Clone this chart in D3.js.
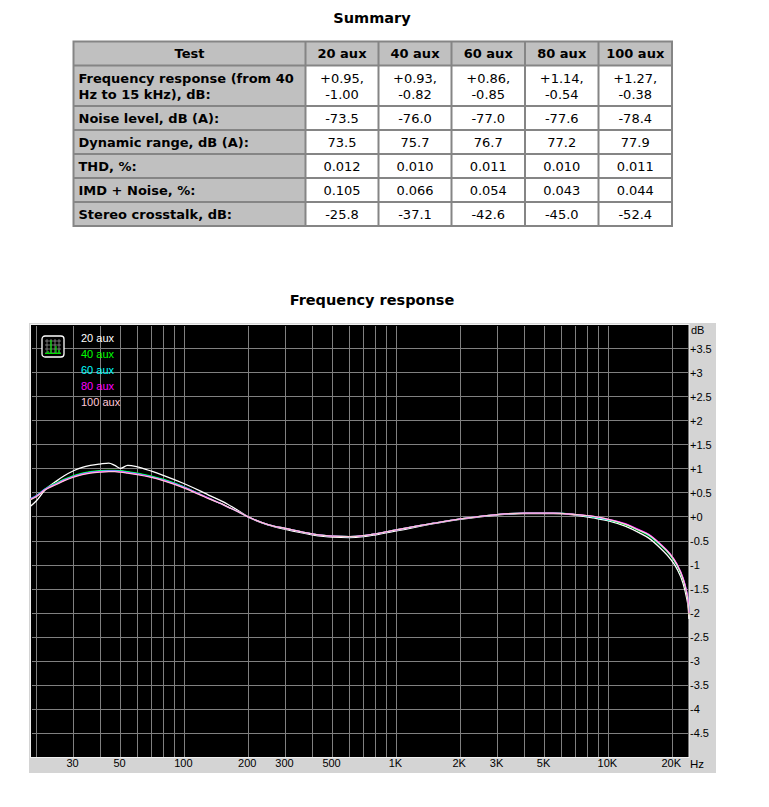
<!DOCTYPE html>
<html>
<head>
<meta charset="utf-8">
<script src="https://cdn.jsdelivr.net/npm/d3@7"></script>
<style>
  body { margin: 0; background: #fff; }
  svg { display: block; }
</style>
</head>
<body>
<script>
// ---- Summary table data ----
const tableHead = ["Test", "20 aux", "40 aux", "60 aux", "80 aux", "100 aux"];
const rowLabels = [
  ["Frequency response (from 40", "Hz to 15 kHz), dB:"],
  ["Noise level, dB (A):"],
  ["Dynamic range, dB (A):"],
  ["THD, %:"],
  ["IMD + Noise, %:"],
  ["Stereo crosstalk, dB:"]
];
const freqRespMax = ["+0.95,", "+0.93,", "+0.86,", "+1.14,", "+1.27,"];
const freqRespMin = ["-1.00", "-0.82", "-0.85", "-0.54", "-0.38"];
const noiseLevel = ["-73.5", "-76.0", "-77.0", "-77.6", "-78.4"];
const dynamicRange = ["73.5", "75.7", "76.7", "77.2", "77.9"];
const thd = ["0.012", "0.010", "0.011", "0.010", "0.011"];
const imdNoise = ["0.105", "0.066", "0.054", "0.043", "0.044"];
const crosstalk = ["-25.8", "-37.1", "-42.6", "-45.0", "-52.4"];

// ---- Frequency response data ----
const seriesNames = ["20 aux", "40 aux", "60 aux", "80 aux", "100 aux"];
const seriesColors = ["#ffffff", "#00ff00", "#00ffff", "#ff00ff", "#ffc8d8"];
const freqs = [18.8, 20, 22, 25, 27, 30, 33, 36, 40, 44, 47, 50, 54, 60, 70, 80, 100, 120, 130, 150, 160, 180, 200,
  250, 300, 400, 500, 600, 700, 800, 1000, 1500, 2000, 3000, 4000, 5500, 7000, 8500, 10000,
  12000, 14000, 15500, 17500, 19500, 21000, 22500, 23300, 23800, 24000];
const aux20 = [0.22, 0.33, 0.56, 0.75, 0.85, 0.96, 1.03, 1.07, 1.10, 1.12, 1.07, 1.01, 1.07, 1.04, 0.95, 0.86, 0.69, 0.53, 0.455, 0.33, 0.265, 0.13, 0.00,
  -0.17, -0.26, -0.37, -0.42, -0.43, -0.41, -0.37, -0.29, -0.14, -0.05, 0.04, 0.07, 0.07, 0.04, -0.02, -0.08,
  -0.19, -0.33, -0.44, -0.64, -0.86, -1.07, -1.38, -1.65, -1.90, -2.12];
const aux40 = [0.36, 0.43, 0.58, 0.71, 0.78, 0.86, 0.91, 0.94, 0.96, 0.97, 0.97, 0.96, 0.94, 0.91, 0.85, 0.78, 0.62, 0.46, 0.39, 0.27, 0.21, 0.105, 0.00,
  -0.165, -0.24, -0.35, -0.40, -0.41, -0.39, -0.35, -0.27, -0.13, -0.04, 0.05, 0.08, 0.08, 0.05, 0.00, -0.06,
  -0.16, -0.29, -0.39, -0.58, -0.79, -1.00, -1.30, -1.55, -1.80, -2.03];
const aux60 = [0.38, 0.44, 0.58, 0.70, 0.77, 0.85, 0.90, 0.93, 0.95, 0.96, 0.96, 0.95, 0.93, 0.90, 0.84, 0.77, 0.62, 0.46, 0.39, 0.27, 0.21, 0.105, 0.00,
  -0.165, -0.24, -0.35, -0.40, -0.41, -0.39, -0.35, -0.27, -0.13, -0.04, 0.05, 0.08, 0.08, 0.05, 0.00, -0.06,
  -0.15, -0.28, -0.38, -0.57, -0.78, -0.99, -1.28, -1.52, -1.76, -1.97];
const aux80 = [0.37, 0.43, 0.57, 0.69, 0.76, 0.84, 0.89, 0.92, 0.94, 0.95, 0.95, 0.94, 0.92, 0.89, 0.83, 0.76, 0.61, 0.46, 0.39, 0.27, 0.21, 0.105, 0.00,
  -0.165, -0.24, -0.35, -0.40, -0.41, -0.39, -0.35, -0.27, -0.13, -0.04, 0.05, 0.08, 0.08, 0.05, 0.01, -0.05,
  -0.14, -0.27, -0.36, -0.55, -0.76, -0.97, -1.27, -1.52, -1.77, -2.00];
const aux100 = [0.36, 0.42, 0.56, 0.68, 0.75, 0.83, 0.88, 0.91, 0.93, 0.94, 0.94, 0.93, 0.91, 0.88, 0.82, 0.75, 0.60, 0.45, 0.38, 0.27, 0.21, 0.105, 0.00,
  -0.165, -0.24, -0.35, -0.40, -0.41, -0.39, -0.35, -0.27, -0.13, -0.04, 0.05, 0.08, 0.08, 0.05, 0.01, -0.05,
  -0.15, -0.28, -0.37, -0.56, -0.77, -0.98, -1.29, -1.55, -1.81, -2.05];
const seriesValues = [aux20, aux40, aux60, aux80, aux100];

// axis ticks
const xTickLabels = [30, 50, 100, 200, 300, 500, 1000, 2000, 3000, 5000, 10000, 20000];
const yTicks = d3.range(-4.5, 3.51, 0.5);
const gridFreqs = [].concat(d3.range(20, 101, 10), d3.range(200, 1001, 100), d3.range(2000, 10001, 1000), [20000]);

const svg = d3.select("body").append("svg")
    .attr("width", 769)
    .attr("height", 807);

// ---- Summary table ----
svg.append("text")
    .attr("x", 372).attr("y", 23)
    .attr("text-anchor", "middle")
    .attr("font-family", "DejaVu Sans, Verdana, sans-serif")
    .attr("font-weight", "bold")
    .attr("font-size", 14.5)
    .text("Summary");

const colX = [73.5, 305.5, 378.5, 451.5, 525, 598.5, 672];
const rowY = [41.5, 65.5, 106, 130, 154, 178, 202, 226];
const tableRows = [
  [freqRespMax, freqRespMin], [noiseLevel], [dynamicRange], [thd], [imdNoise], [crosstalk]
];

const table = svg.append("g")
    .attr("font-family", "DejaVu Sans, Verdana, sans-serif")
    .attr("font-size", 13);

table.append("rect")
    .attr("x", colX[0] - 1).attr("y", rowY[0] - 1)
    .attr("width", colX[6] - colX[0] + 2)
    .attr("height", rowY[7] - rowY[0] + 2)
    .attr("fill", "#858585");

for (let r = 0; r < rowY.length - 1; r++) {
  for (let c = 0; c < colX.length - 1; c++) {
    const grey = r === 0 || c === 0;
    table.append("rect")
        .attr("x", colX[c] + 1).attr("y", rowY[r] + 1)
        .attr("width", colX[c + 1] - colX[c] - 2)
        .attr("height", rowY[r + 1] - rowY[r] - 2)
        .attr("fill", grey ? "#c0c0c0" : "#ffffff");

    let lines;
    if (r === 0) lines = [tableHead[c]];
    else if (c === 0) lines = rowLabels[r - 1];
    else lines = tableRows[r - 1].map(arr => arr[c - 1]);

    const cy = (rowY[r] + rowY[r + 1]) / 2;
    const lh = 16;
    const t = table.append("text")
        .attr("x", c === 0 && r > 0 ? colX[0] + 5 : (colX[c] + colX[c + 1]) / 2)
        .attr("text-anchor", c === 0 && r > 0 ? "start" : "middle")
        .attr("font-weight", r === 0 || c === 0 ? "bold" : "normal")
        .attr("fill", "#000");
    lines.forEach((s, i) => {
      t.append("tspan")
          .attr("x", t.attr("x"))
          .attr("y", cy + (i - (lines.length - 1) / 2) * lh + 4.8)
          .text(s);
    });
  }
}

// ---- Frequency response chart ----
svg.append("text")
    .attr("x", 372).attr("y", 305)
    .attr("text-anchor", "middle")
    .attr("font-family", "DejaVu Sans, Verdana, sans-serif")
    .attr("font-weight", "bold")
    .attr("font-size", 14.5)
    .text("Frequency response");

const x = d3.scaleLog().domain([18.8, 24000]).range([30.5, 689]);
const y = d3.scaleLinear().domain([-5, 4]).range([757.5, 324.5]);

// grey panel
svg.append("rect")
    .attr("x", 29).attr("y", 323)
    .attr("width", 687).attr("height", 450)
    .attr("fill", "#d4d4d4");

// plot background
svg.append("rect")
    .attr("x", x.range()[0]).attr("y", y.range()[1])
    .attr("width", x.range()[1] - x.range()[0])
    .attr("height", y.range()[0] - y.range()[1])
    .attr("fill", "#000")
    .attr("stroke", "#f0f0f0")
    .attr("stroke-width", 1);

const grid = svg.append("g")
    .attr("stroke", "#808080")
    .attr("stroke-width", 1)
    .attr("shape-rendering", "crispEdges");

grid.selectAll("line.v")
    .data(gridFreqs)
    .enter().append("line")
    .attr("class", "v")
    .attr("x1", d => x(d)).attr("x2", d => x(d))
    .attr("y1", y.range()[1] + 1).attr("y2", y.range()[0] - 1);

grid.selectAll("line.h")
    .data(yTicks)
    .enter().append("line")
    .attr("class", "h")
    .attr("x1", x.range()[0] + 1).attr("x2", x.range()[1] - 1)
    .attr("y1", d => y(d)).attr("y2", d => y(d));

// curves
const line = d3.line()
    .x(d => x(d[0]))
    .y(d => y(d[1]))
    .curve(d3.curveMonotoneX);

svg.append("g")
    .selectAll("path")
    .data(seriesValues)
    .enter().append("path")
    .attr("d", vals => line(freqs.map((f, i) => [f, vals[i]])))
    .attr("fill", "none")
    .attr("stroke", (d, i) => seriesColors[i])
    .attr("stroke-width", 1.3);

// axis labels
const axisFont = "Liberation Sans, Arial, sans-serif";
const fmtHz = d => d >= 1000 ? (d / 1000) + "K" : String(d);
const fmtDb = d => d > 0 ? "+" + d : (d === 0 ? "+0" : String(d));

svg.append("g")
    .attr("font-family", axisFont)
    .attr("font-size", 11)
    .attr("fill", "#000")
    .selectAll("text")
    .data(xTickLabels)
    .enter().append("text")
    .attr("x", d => x(d) - 1)
    .attr("y", 767)
    .attr("text-anchor", "middle")
    .text(fmtHz);

svg.append("text")
    .attr("x", 690).attr("y", 768)
    .attr("font-family", axisFont)
    .attr("font-size", 11.5)
    .text("Hz");

svg.append("g")
    .attr("font-family", axisFont)
    .attr("font-size", 11)
    .attr("fill", "#000")
    .selectAll("text")
    .data(yTicks)
    .enter().append("text")
    .attr("x", 690)
    .attr("y", d => y(d) + 4)
    .text(fmtDb);

svg.append("text")
    .attr("x", 691).attr("y", 334)
    .attr("font-family", axisFont)
    .attr("font-size", 11)
    .text("dB");

// legend icon
const icon = svg.append("g").attr("transform", "translate(42,336)");
icon.append("rect")
    .attr("width", 22).attr("height", 21).attr("rx", 3)
    .attr("fill", "#000").attr("stroke", "#fff").attr("stroke-width", 1.3);
[5, 9, 13, 17].forEach(v => {
  icon.append("line").attr("x1", v).attr("x2", v).attr("y1", 3).attr("y2", 18)
      .attr("stroke", "#909090").attr("stroke-width", 0.8);
  icon.append("line").attr("x1", 3).attr("x2", 19).attr("y1", v).attr("y2", v)
      .attr("stroke", "#909090").attr("stroke-width", 0.8);
});
icon.append("path")
    .attr("d", "M3,17.5H19M9,17.5V4M14,17.5V10M6,17.5V15M17,17.5V14")
    .attr("stroke", "#00e000").attr("stroke-width", 1.2).attr("fill", "none");

// legend text
svg.append("g")
    .attr("font-family", axisFont)
    .attr("font-size", 11)
    .selectAll("text")
    .data(seriesNames)
    .enter().append("text")
    .attr("x", 81)
    .attr("y", (d, i) => 342 + i * 16)
    .attr("fill", (d, i) => seriesColors[i])
    .text(d => d);
</script>
</body>
</html>
